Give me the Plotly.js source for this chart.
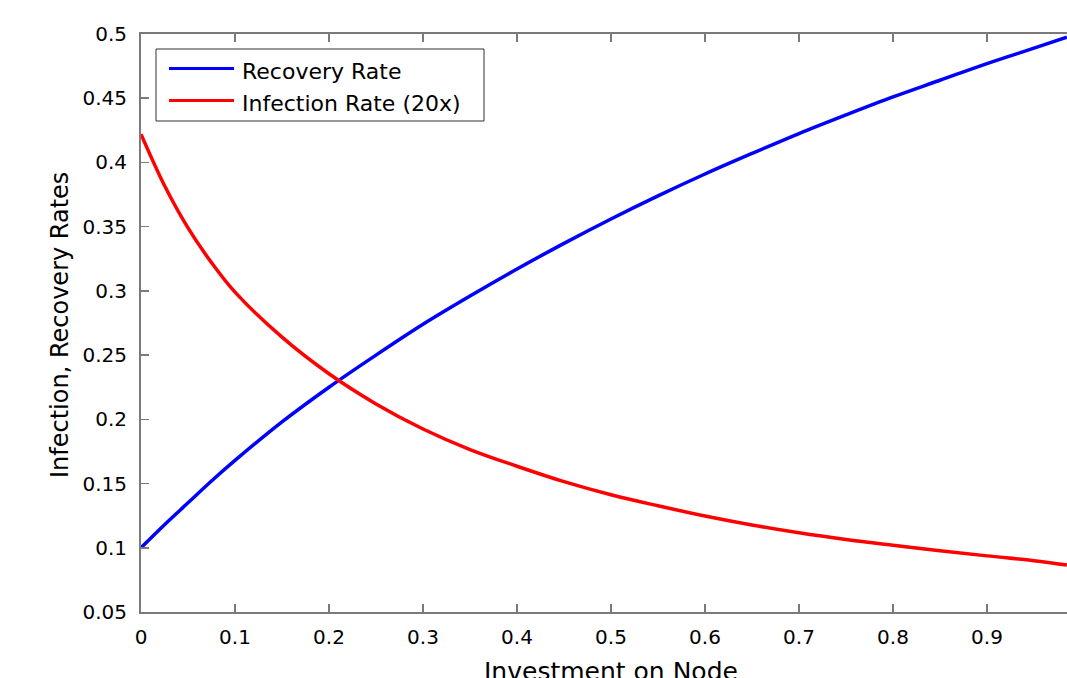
<!DOCTYPE html>
<html>
<head>
<meta charset="utf-8">
<script src="https://cdn.plot.ly/plotly-3.0.1.min.js"></script>
<style>
  html, body { margin: 0; padding: 0; background: #fff; }
  #chart { width: 1067px; height: 678px; }
</style>
</head>
<body>
<div id="chart"></div>
<script>
// ---- data ----
const investment = [0, 0.025, 0.05, 0.075, 0.1, 0.15, 0.2, 0.25, 0.3, 0.35, 0.4, 0.45, 0.5, 0.55, 0.6, 0.65, 0.7, 0.75, 0.8, 0.85, 0.9, 0.95, 0.985];
const recoveryRate = [0.100, 0.118, 0.135, 0.152, 0.168, 0.198, 0.225, 0.250, 0.274, 0.296, 0.317, 0.337, 0.356, 0.374, 0.391, 0.407, 0.4225, 0.437, 0.451, 0.464, 0.477, 0.489, 0.4975];
const infectionRate20x = [0.422, 0.382, 0.349, 0.322, 0.299, 0.264, 0.2355, 0.212, 0.1925, 0.1765, 0.1635, 0.1515, 0.1413, 0.1327, 0.1247, 0.1177, 0.1117, 0.1065, 0.102, 0.0977, 0.0937, 0.0899, 0.0866];

const seriesNames = ["Recovery Rate", "Infection Rate (20x)"];
const seriesColors = ["#0000ff", "#ff0000"];

const xTickVals = [0, 0.1, 0.2, 0.3, 0.4, 0.5, 0.6, 0.7, 0.8, 0.9, 1];
const xTickText = ["0", "0.1", "0.2", "0.3", "0.4", "0.5", "0.6", "0.7", "0.8", "0.9", "1"];
const yTickVals = [0.05, 0.1, 0.15, 0.2, 0.25, 0.3, 0.35, 0.4, 0.45, 0.5];
const yTickText = ["0.05", "0.1", "0.15", "0.2", "0.25", "0.3", "0.35", "0.4", "0.45", "0.5"];

const xTitle = "Investment on Node";
const yTitle = "Infection, Recovery Rates";

// ---- layout helpers ----
const W = 1067, H = 678;
const M = { l: 141, r: 0, t: 34, b: 66 };
const pw = W - M.l - M.r, ph = H - M.t - M.b;
const px = v => (v - M.l) / pw;       // pixel x -> paper x
const py = v => (H - M.b - v) / ph;   // pixel y -> paper y

const FONT = "DejaVu Sans, Arial, sans-serif";
const axisColor = "#7a7a7a";

const traces = [
  { x: investment, y: recoveryRate, name: seriesNames[0], type: "scatter", mode: "lines",
    line: { color: seriesColors[0], width: 3.5, shape: "spline", smoothing: 1 }, showlegend: false },
  { x: investment, y: infectionRate20x, name: seriesNames[1], type: "scatter", mode: "lines",
    line: { color: seriesColors[1], width: 3.5, shape: "spline", smoothing: 1 }, showlegend: false }
];

// custom legend (MATLAB-style long line samples)
const legBox = { x0: 156, x1: 484, y0: 49, y1: 121 };
const legRows = [68.5, 100.5];
const shapes = [
  { type: "rect", xref: "paper", yref: "paper",
    x0: px(legBox.x0), x1: px(legBox.x1), y0: py(legBox.y1), y1: py(legBox.y0),
    line: { color: "#333333", width: 1 }, fillcolor: "#ffffff", layer: "above" }
];
const annotations = [];
seriesNames.forEach((name, i) => {
  shapes.push({ type: "line", xref: "paper", yref: "paper",
    x0: px(169), x1: px(234), y0: py(legRows[i]), y1: py(legRows[i]),
    line: { color: seriesColors[i], width: 3 }, layer: "above" });
  annotations.push({ xref: "paper", yref: "paper", x: px(240), y: py(legRows[i] + 3),
    xanchor: "left", yanchor: "middle", text: name, showarrow: false,
    font: { family: FONT, size: 22, color: "#000" } });
});
// axis titles
annotations.push({ xref: "x", yref: "paper", x: 0.5, y: py(655), xanchor: "center", yanchor: "top",
  text: xTitle, showarrow: false, font: { family: FONT, size: 25, color: "#000" } });
annotations.push({ xref: "paper", yref: "paper", x: px(60), y: py(325), xanchor: "center", yanchor: "middle",
  textangle: -90, text: yTitle, showarrow: false, font: { family: FONT, size: 24, color: "#000" } });

const layout = {
  width: W, height: H,
  margin: M,
  paper_bgcolor: "#ffffff", plot_bgcolor: "#ffffff",
  showlegend: false,
  font: { family: FONT, size: 20, color: "#000" },
  xaxis: {
    range: [0, pw / 940], autorange: false,
    tickmode: "array", tickvals: xTickVals, ticktext: xTickText,
    ticks: "inside", ticklen: 8, tickwidth: 1.5, tickcolor: axisColor,
    showline: true, linecolor: axisColor, linewidth: 2, mirror: "ticks",
    showgrid: false, zeroline: false,
    tickfont: { family: FONT, size: 20, color: "#000" },
    ticklabelstandoff: 6
  },
  yaxis: {
    range: [0.05, 0.5], autorange: false,
    tickmode: "array", tickvals: yTickVals, ticktext: yTickText,
    ticks: "inside", ticklen: 8, tickwidth: 1.5, tickcolor: axisColor,
    showline: true, linecolor: axisColor, linewidth: 2, mirror: false,
    showgrid: false, zeroline: false,
    tickfont: { family: FONT, size: 20, color: "#000" },
    ticklabelstandoff: 8
  },
  shapes: shapes,
  annotations: annotations
};

Plotly.newPlot("chart", traces, layout, { staticPlot: true, displayModeBar: false });
</script>
</body>
</html>
